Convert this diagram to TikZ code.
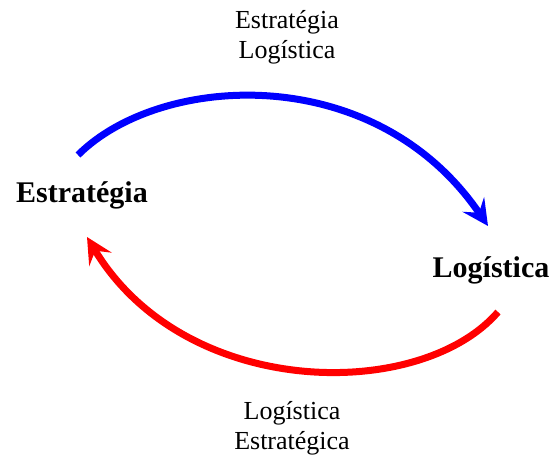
\documentclass[tikz,border=0pt]{standalone}
\usepackage{fontspec}
\setmainfont{Liberation Serif}
\usetikzlibrary{arrows.meta}
\begin{document}
\begin{tikzpicture}[x=1pt,y=-1pt,
  lbl/.style={align=center,font=\fontsize{26}{30}\selectfont,inner sep=0pt},
  big/.style={font=\fontsize{30}{34}\selectfont\bfseries,inner sep=0pt},
  flow/.style={line width=7pt,-{Stealth[length=26pt,width=26pt,inset=10pt]}}]
\useasboundingbox (0,0) rectangle (553,457);
\node[big] (est) at (82,195) {Estratégia};
\node[big] (log) at (491,270) {Logística};
\node[lbl] (top) at (287,37) {Estratégia\\Logística};
\node[lbl] (bot) at (292,428) {Logística\\Estratégica};
\coordinate (b0) at (78,155);
\coordinate (b1) at (488,226);
\coordinate (r0) at (498,312);
\coordinate (r1) at (87,237);
\draw[flow,blue] (b0) .. controls (160,73) and (375,60) .. (b1);
\draw[flow,red] (r0) .. controls (420,402) and (185,400) .. (r1);
\end{tikzpicture}
\end{document}
